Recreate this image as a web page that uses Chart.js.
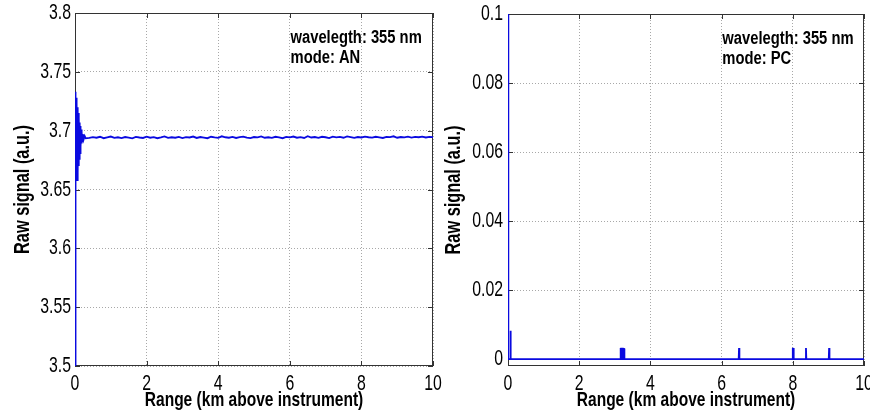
<!DOCTYPE html>
<html><head><meta charset="utf-8">
<script src="https://cdn.jsdelivr.net/npm/chart.js@4/dist/chart.umd.min.js"></script>
<style>
html,body{margin:0;padding:0;background:#fff;width:870px;height:416px;overflow:hidden}
canvas{position:absolute;top:0}
#cAN{left:0}
#cPC{left:440px}
</style></head><body>
<canvas id="cAN" width="450" height="416"></canvas>
<canvas id="cPC" width="430" height="416"></canvas>
<script>
// ---- data ----
const rangeAN = [0,0.01,0.02,0.03,0.04,0.05,0.06,0.07,0.08,0.09,0.10,0.11,0.12,0.13,0.14,0.15,0.16,0.17,0.18,0.19,0.20,0.22,0.24,0.27,0.30,
0.4,0.5,0.6,0.7,0.8,0.9,1.0,1.1,1.2,1.3,
1.4,1.5,1.6,1.7,1.8,1.9,2.0,2.1,2.2,2.3,
2.4,2.5,2.6,2.7,2.8,2.9,3.0,3.1,3.2,3.3,
3.4,3.5,3.6,3.7,3.8,3.9,4.0,4.1,4.2,4.3,
4.4,4.5,4.6,4.7,4.8,4.9,5.0,5.1,5.2,5.3,
5.4,5.5,5.6,5.7,5.8,5.9,6.0,6.1,6.2,6.3,
6.4,6.5,6.6,6.7,6.8,6.9,7.0,7.1,7.2,7.3,
7.4,7.5,7.6,7.7,7.8,7.9,8.0,8.1,8.2,8.3,
8.4,8.5,8.6,8.7,8.8,8.9,9.0,9.1,9.2,9.3,
9.4,9.5,9.6,9.7,9.8,9.9,10.0];
const signalAN = [3.40,3.733,3.668,3.728,3.662,3.724,3.658,3.720,3.664,3.715,3.670,3.711,3.676,3.707,3.681,3.704,3.686,3.701,3.689,3.699,3.691,3.697,3.6925,3.6955,3.6935,
3.6938,3.6945,3.6940,3.6948,3.6936,3.6943,3.6950,3.6939,3.6944,3.6937,
3.6946,3.6941,3.6935,3.6947,3.6942,3.6938,3.6949,3.6940,3.6945,3.6936,
3.6943,3.6951,3.6939,3.6944,3.6940,3.6947,3.6937,3.6945,3.6942,3.6950,
3.6938,3.6946,3.6941,3.6936,3.6948,3.6943,3.6939,3.6952,3.6944,3.6940,
3.6947,3.6938,3.6945,3.6949,3.6941,3.6937,3.6946,3.6943,3.6951,3.6940,
3.6944,3.6939,3.6948,3.6942,3.6936,3.6947,3.6943,3.6950,3.6940,3.6945,
3.6938,3.6953,3.6942,3.6946,3.6939,3.6948,3.6944,3.6937,3.6949,3.6943,
3.6947,3.6940,3.6951,3.6945,3.6939,3.6946,3.6942,3.6950,3.6944,3.6941,
3.6948,3.6943,3.6938,3.6947,3.6945,3.6952,3.6940,3.6946,3.6943,3.6949,
3.6941,3.6947,3.6944,3.6950,3.6942,3.6948,3.6945];
const rangePC = [0,0.01,0.06,0.07,0.08,
3.15,3.16,3.17,3.18,3.19,3.20,3.21,3.22,3.23,3.24,3.25,3.26,3.27,
6.48,6.49,6.50,
7.99,8.00,8.01,8.02,8.03,
8.36,8.37,8.38,
9.01,9.02,9.03,
10.0];
const signalPC = [0.15,0,0,0.0082,0,
0,0.0032,0,0.0033,0,0.0032,0,0.0033,0,0.0032,0,0.0031,0,
0,0.0032,0,
0,0.0033,0,0.0032,0,
0,0.0032,0,
0,0.0032,0,
0];
const xTicks = [0,2,4,6,8,10];
const yTicksAN = [3.5,3.55,3.6,3.65,3.7,3.75,3.8];
const yTicksPC = [0,0.02,0.04,0.06,0.08,0.1];
const notesAN = ['wavelegth: 355 nm','mode: AN'];
const notesPC = ['wavelegth: 355 nm','mode: PC'];
const xTitle = 'Range (km above instrument)';
const yTitle = 'Raw signal (a.u.)';

// ---- styling ----
const FONT = '"Liberation Sans", Arial, sans-serif';
// horizontal condensing per font size (the reference uses a very narrow face)
const SQUEEZE = {'22': 0.72, '21': 0.74, '21.5': 0.76, '18': 0.82};
function squeezeCtx(ctx){
  const orig = ctx.fillText.bind(ctx);
  ctx.fillText = function(text, x, y, maxWidth){
    const m = /(\d+(?:\.\d+)?)px/.exec(ctx.font);
    const k = (m && SQUEEZE[String(parseFloat(m[1]))]) || 1;
    const w = ctx.measureText(text).width * k;
    const mw = (maxWidth !== undefined && maxWidth !== null) ? Math.min(maxWidth, w) : w;
    if (mw > 0) orig(text, x, y, mw);
  };
}

const framePlugin = {
  id: 'frame',
  beforeDatasetsDraw(chart){
    const {ctx, chartArea:{left,right,top,bottom}, scales:{x,y}} = chart;
    ctx.save();
    ctx.strokeStyle = '#333';
    ctx.lineWidth = 1;
    ctx.strokeRect(left + 0.5, top + 0.5, right - left - 1, bottom - top - 1);
    const L = 5;
    ctx.beginPath();
    x.ticks.forEach(t => {
      const px = Math.round(x.getPixelForValue(t.value)) + 0.5;
      ctx.moveTo(px, bottom); ctx.lineTo(px, bottom - L);
      ctx.moveTo(px, top); ctx.lineTo(px, top + L);
    });
    y.ticks.forEach(t => {
      const py = Math.round(y.getPixelForValue(t.value)) + 0.5;
      ctx.moveTo(left, py); ctx.lineTo(left + L, py);
      ctx.moveTo(right, py); ctx.lineTo(right - L, py);
    });
    ctx.stroke();
    ctx.restore();
  },
  afterDraw(chart, args, opts){
    const {ctx, chartArea:{top}, scales:{x}} = chart;
    ctx.save();
    ctx.fillStyle = '#000';
    ctx.font = 'bold 18px ' + FONT;
    ctx.textAlign = 'left';
    ctx.textBaseline = 'alphabetic';
    const tx = x.getPixelForValue(opts.textX);
    opts.lines.forEach((s, i) => ctx.fillText(s, tx, top + 30 + i * 20));
    ctx.restore();
  }
};

function makeChart(id, xs, ys, yMin, yMax, yTicks, notes, lay){
  const canvas = document.getElementById(id);
  const ctx = canvas.getContext('2d');
  squeezeCtx(ctx);
  return new Chart(ctx, {
    type: 'line',
    data: {datasets: [{
      data: xs.map((v, i) => ({x: v, y: ys[i]})),
      borderColor: '#0a0ae0', borderWidth: 1.8, pointRadius: 0, tension: 0, clip: 0, fill: false
    }]},
    options: {
      responsive: false, animation: false, devicePixelRatio: 1,
      layout: {padding: {top: lay.top, right: lay.right, left: 0, bottom: 0}},
      plugins: {legend: {display: false}, tooltip: {enabled: false}, frame: {textX: 6.02, lines: notes}},
      scales: {
        x: {
          type: 'linear', min: 0, max: 10,
          afterBuildTicks: s => { s.ticks = xTicks.map(v => ({value: v})); },
          afterFit: s => { s.height = 50; s.paddingLeft = 0; s.paddingRight = 0; },
          ticks: {padding: 7, color: '#000', autoSkip: false, maxRotation: 0,
                  font: {family: FONT, size: 22, lineHeight: 1}, callback: v => String(v)},
          grid: {color: '#a8a8a8', lineWidth: 1, drawTicks: false},
          border: {display: false, dash: [1, 2]},
          title: {display: true, text: xTitle, color: '#000',
                  font: {family: FONT, size: 21, weight: 'bold', lineHeight: 1}, padding: {top: 0, bottom: 5}}
        },
        y: {
          type: 'linear', min: yMin, max: yMax,
          afterBuildTicks: s => { s.ticks = yTicks.map(v => ({value: v})); },
          afterFit: s => { s.width = lay.yWidth; s.paddingTop = 0; s.paddingBottom = 0; },
          ticks: {padding: lay.tickPad, color: '#000', autoSkip: false,
                  font: {family: FONT, size: 22, lineHeight: 1}, callback: v => String(+v.toFixed(3))},
          grid: {color: '#a8a8a8', lineWidth: 1, drawTicks: false},
          border: {display: false, dash: [1, 2]},
          title: {display: true, text: yTitle, color: '#000',
                  font: {family: FONT, size: 21.5, weight: 'bold', lineHeight: 1}, padding: {top: lay.titlePad, bottom: 0}}
        }
      }
    },
    plugins: [framePlugin]
  });
}

makeChart('cAN', rangeAN, signalAN, 3.5, 3.8, yTicksAN, notesAN,
  {top: 13, right: 17, yWidth: 75, tickPad: 4, titlePad: 12});
makeChart('cPC', rangePC, signalPC, -0.002, 0.1, yTicksPC, notesPC,
  {top: 14, right: 6, yWidth: 68, tickPad: 5, titlePad: 3});
</script>
</body></html>
